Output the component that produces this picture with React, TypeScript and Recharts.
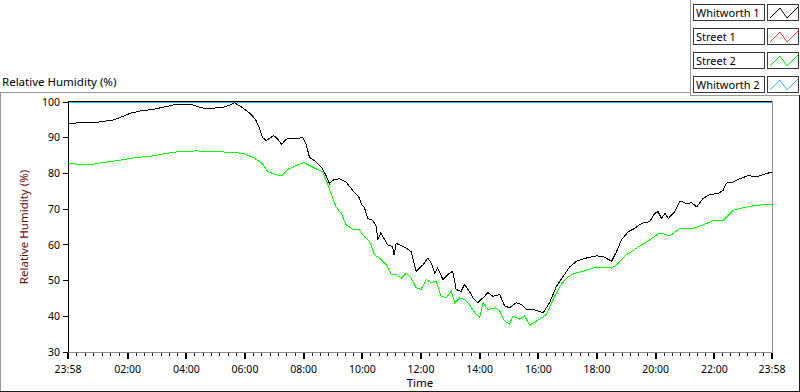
import { LineChart, Line, XAxis, YAxis } from 'recharts';

// minutes after 23:58 (start of the log) and humidity readings
const whitworth1Minutes = [
  0, 22, 59, 94, 115, 128, 149, 176, 197, 217,
  244, 258, 272, 285, 306, 320, 333, 340, 354, 374,
  384, 391, 398, 405, 412, 421, 429, 437, 446, 456,
  470, 480, 487, 494, 504, 518, 528, 535, 541, 555,
  569, 582, 596, 600, 606, 613, 623, 630, 634, 640,
  644, 654, 664, 667, 671, 678, 692, 702, 712, 726,
  736, 743, 750, 756, 767, 777, 787, 794, 804, 811,
  821, 828, 838, 849, 859, 869, 883, 893, 903, 917,
  927, 938, 951, 961, 972, 985, 999, 1013, 1026, 1040,
  1060, 1081, 1094, 1112, 1122, 1132, 1146, 1159, 1173, 1190,
  1200, 1207, 1214, 1221, 1228, 1241, 1252, 1265, 1276, 1286,
  1299, 1313, 1330, 1340, 1347, 1361, 1374, 1392, 1409, 1422,
  1440,
];
const whitworth1Values = [
  93.9, 94.2, 94.3, 95.0, 96.1, 96.9, 97.5, 98.0, 98.6, 99.2,
  99.4, 99.1, 98.4, 98.1, 98.4, 98.6, 99.2, 99.8, 98.7, 96.6,
  95.0, 92.9, 90.1, 89.2, 89.8, 90.6, 89.6, 88.1, 89.6, 89.8,
  89.8, 90.1, 88.2, 84.5, 83.6, 81.8, 79.4, 77.1, 78.1, 78.5,
  77.6, 75.3, 73.2, 71.4, 70.6, 67.4, 66.9, 65.4, 61.6, 63.4,
  62.3, 60.0, 59.5, 57.1, 60.4, 60.0, 59.1, 58.1, 52.6, 54.4,
  56.3, 54.9, 52.1, 53.5, 50.3, 51.7, 52.6, 47.5, 47.0, 48.9,
  47.0, 45.2, 43.8, 45.2, 46.6, 45.6, 46.1, 42.9, 42.4, 43.8,
  43.3, 41.9, 41.9, 41.5, 41.0, 43.8, 48.4, 51.2, 53.8, 55.4,
  56.3, 56.9, 56.8, 55.4, 58.1, 61.4, 63.7, 64.6, 66.0, 66.5,
  68.8, 69.3, 67.4, 68.8, 67.4, 69.3, 72.3, 71.6, 71.8, 70.6,
  73.0, 74.1, 74.4, 75.3, 77.3, 77.6, 78.5, 79.4, 79.0, 79.7,
  80.4,
];

const street2Minutes = [
  0, 46, 80, 115, 142, 169, 197, 231, 265, 299,
  340, 361, 381, 398, 408, 422, 437, 449, 470, 483,
  500, 521, 528, 538, 548, 559, 569, 582, 596, 606,
  617, 627, 637, 651, 661, 671, 682, 692, 702, 712,
  722, 733, 743, 753, 763, 774, 784, 791, 801, 811,
  821, 832, 842, 849, 859, 873, 883, 893, 903, 910,
  924, 934, 944, 955, 965, 979, 992, 1006, 1020, 1033,
  1053, 1081, 1112, 1122, 1142, 1170, 1190, 1207, 1217, 1231,
  1252, 1279, 1299, 1320, 1340, 1361, 1381, 1409, 1440,
];
const street2Values = [
  82.7, 82.5, 83.2, 83.9, 84.5, 84.8, 85.5, 86.2, 86.3, 86.1,
  85.9, 85.5, 84.3, 82.7, 80.6, 79.8, 79.3, 81.1, 82.4, 83.0,
  81.8, 80.4, 78.1, 74.4, 70.6, 68.8, 65.6, 64.4, 64.2, 62.3,
  60.9, 57.2, 56.3, 54.4, 51.7, 51.7, 50.7, 52.1, 50.7, 48.0,
  47.5, 50.3, 49.4, 49.8, 45.6, 45.2, 47.0, 43.8, 45.2, 44.7,
  43.3, 41.0, 39.6, 43.8, 41.9, 42.4, 41.5, 38.7, 37.8, 40.1,
  39.2, 40.1, 37.5, 38.4, 39.2, 40.6, 44.7, 48.4, 50.7, 51.9,
  52.6, 53.8, 53.5, 54.4, 57.2, 59.7, 61.4, 63.1, 63.1, 62.5,
  64.6, 64.6, 65.6, 66.8, 66.9, 69.7, 70.4, 71.1, 71.3,
];

const whitworth2Minutes = [0, 1440];
const whitworth2Values = [100, 100];

const street1Minutes: number[] = [];
const street1Values: number[] = [];

const legendNames = ['Whitworth 1', 'Street 1', 'Street 2', 'Whitworth 2'];
const legendColors = ['#000000', '#ff3c3c', '#00e600', '#3cb4ff'];

const majorTicks = [0, 122, 242, 362, 482, 602, 722, 842, 962, 1082, 1202, 1322, 1440];
const xTickLabels = ['23:58', '02:00', '04:00', '06:00', '08:00', '10:00', '12:00', '14:00', '16:00', '18:00', '20:00', '22:00', '23:58'];
const yTicks = [30, 40, 50, 60, 70, 80, 90, 100];

const minorTicks: number[] = [];
for (let i = 0; i < majorTicks.length - 1; i++) {
  const step = (majorTicks[i + 1] - majorTicks[i]) / 7;
  for (let k = 1; k < 7; k++) minorTicks.push(majorTicks[i] + k * step);
}
const allXTicks = [...majorTicks, ...minorTicks].sort((a, b) => a - b);

const toRows = (ts: number[], vs: number[]) => ts.map((t, i) => ({ t, v: vs[i] }));

const XTick = (props: any) => {
  const { x, y, payload } = props;
  const idx = majorTicks.indexOf(payload.value);
  const major = idx >= 0;
  return (
    <g>
      <line x1={x} x2={x} y1={y + 1} y2={y + (major ? 7 : 4)} stroke="#000" strokeWidth={major ? 2 : 1} />
      {major && (
        <text x={x} y={y + 21} textAnchor="middle" fontSize={10.5} fill="#000">
          {xTickLabels[idx]}
        </text>
      )}
    </g>
  );
};

const line = (style: React.CSSProperties) => <div style={{ position: 'absolute', ...style }} />;

export default function App() {
  return (
    <div
      style={{
        position: 'absolute', left: 0, top: 0, width: 800, height: 392, background: '#fff',
        fontFamily: '"Noto Sans", sans-serif', fontSize: 11.5, overflow: 'hidden',
      }}
    >
      <div style={{ position: 'absolute', left: 2, top: 74, color: '#000', whiteSpace: 'nowrap' }}>
        Relative Humidity (%)
      </div>

      {/* panel frame */}
      {line({ left: 0, top: 92, width: 690, height: 1, background: '#9a9a9a' })}
      {line({ left: 0, top: 92, width: 1, height: 300, background: '#9a9a9a' })}
      {line({ left: 690, top: 0, width: 1, height: 96, background: '#9a9a9a' })}
      {line({ left: 690, top: 95, width: 110, height: 1, background: '#9a9a9a' })}
      {line({ left: 0, top: 391, width: 800, height: 1, background: '#1a1a1a' })}
      {line({ left: 799, top: 95, width: 1, height: 297, background: '#1a1a1a' })}

      {/* legend */}
      {legendNames.map((name, i) => (
        <div key={name}>
          <div
            style={{
              position: 'absolute', left: 693, top: 4 + i * 24, width: 68, height: 15,
              border: '1px solid #3a3a3a', lineHeight: '15px', paddingLeft: 2, whiteSpace: 'nowrap', fontSize: 11,
            }}
          >
            {name}
          </div>
          <svg
            width={32}
            height={17}
            style={{ position: 'absolute', left: 767, top: 4 + i * 24, border: '1px solid #3a3a3a', boxSizing: 'border-box' }}
          >
            <polyline points="2,13 12,3 19,13 30,2" fill="none" stroke={legendColors[i]} strokeWidth={1} />
          </svg>
        </div>
      ))}

      <div style={{ position: 'absolute', left: 0, top: 0 }}>
        <LineChart width={800} height={392} margin={{ top: 102, right: 28, bottom: 0, left: 0 }} style={{ shapeRendering: 'crispEdges' }}>
          <XAxis
            type="number"
            dataKey="t"
            domain={[0, 1440]}
            allowDataOverflow
            ticks={allXTicks}
            interval={0}
            height={40}
            tickSize={0}
            tickMargin={0}
            tickLine={false}
            axisLine={{ stroke: '#8c8c8c' }}
            tick={<XTick />}
            label={{ value: 'Time', position: 'insideBottom', offset: 5, fill: '#000', fontSize: 11.5 }}
          />
          <YAxis
            type="number"
            dataKey="v"
            domain={[30, 100]}
            allowDataOverflow
            ticks={yTicks}
            width={68}
            tickSize={5}
            tickMargin={3}
            tickLine={{ stroke: '#000' }}
            axisLine={{ stroke: '#000' }}
            tick={{ fill: '#000', fontSize: 10.5 }}
            label={{ value: 'Relative Humidity (%)', angle: -90, position: 'insideLeft', offset: 24, fill: '#6e0a0a', fontSize: 11.5, style: { textAnchor: 'middle' } }}
          />
          <Line data={toRows(whitworth2Minutes, whitworth2Values)} dataKey="v" stroke={legendColors[3]} strokeWidth={1} dot={false} activeDot={false} isAnimationActive={false} />
          <Line data={toRows(street1Minutes, street1Values)} dataKey="v" stroke={legendColors[1]} strokeWidth={1} dot={false} activeDot={false} isAnimationActive={false} />
          <Line data={toRows(street2Minutes, street2Values)} dataKey="v" stroke="#00ff00" strokeWidth={1} dot={false} activeDot={false} isAnimationActive={false} />
          <Line data={toRows(whitworth1Minutes, whitworth1Values)} dataKey="v" stroke="#000" strokeWidth={1} dot={false} activeDot={false} isAnimationActive={false} />
        </LineChart>
      </div>

      {/* sunken plot frame, top and right edges */}
      {line({ left: 68, top: 101, width: 705, height: 1, background: '#000' })}
      {line({ left: 772, top: 101, width: 1, height: 252, background: '#8c8c8c' })}
    </div>
  );
}
